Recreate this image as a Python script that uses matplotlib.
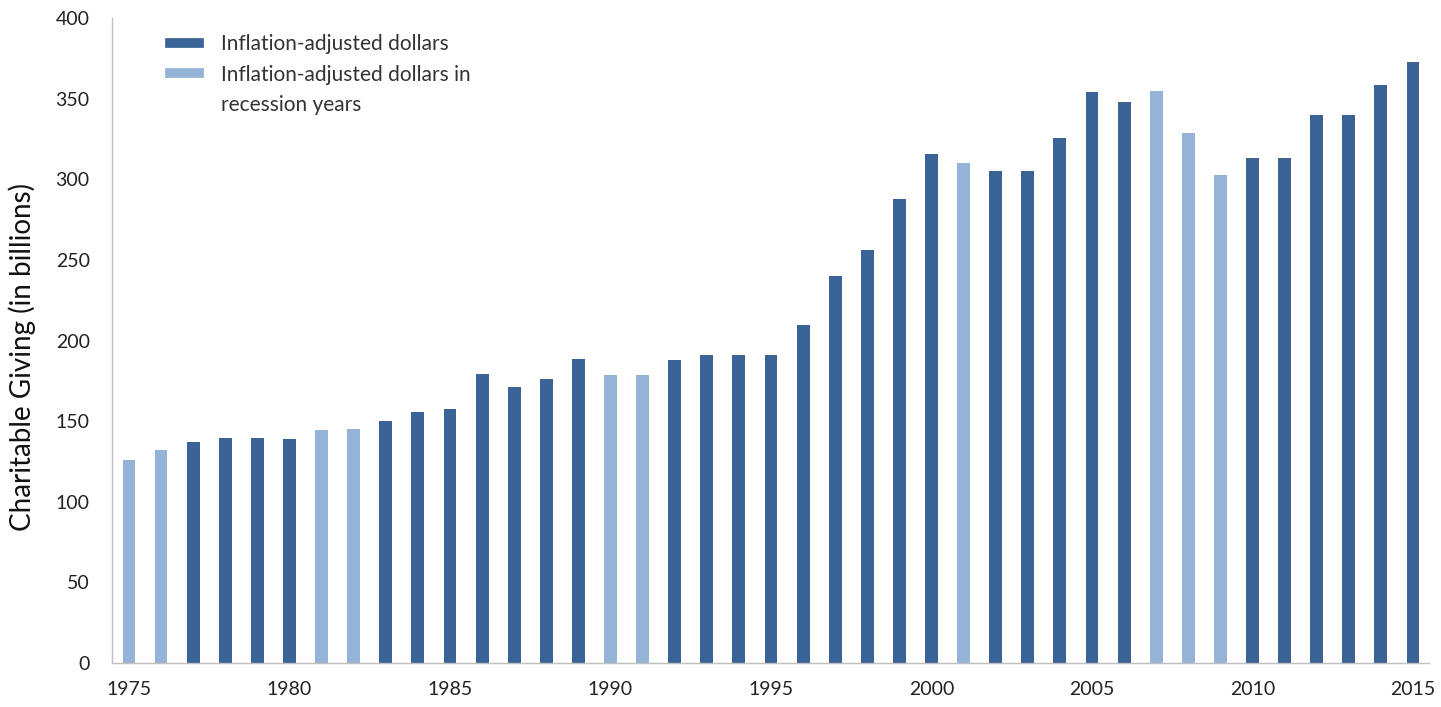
import matplotlib.pyplot as plt
from matplotlib.lines import Line2D

plt.rcParams['font.family'] = ['Lato', 'DejaVu Sans']

years = list(range(1975, 2016))
giving = [126, 132, 137, 139.5, 139.5, 139, 144.5, 145, 150, 155.5,
          157.5, 179, 171, 176, 188.5, 178.5, 178.5, 188, 191, 191,
          191, 210, 240, 256.5, 288, 316, 310, 305.5, 305.5, 326,
          354.5, 348, 355, 329, 302.5, 313, 313.5, 340, 340, 358.5,
          373]
recession_years = [1975, 1976, 1981, 1982, 1990, 1991, 2001, 2007, 2008, 2009]

dark = '#3A6497'
light = '#95B3D7'
colors = [light if y in recession_years else dark for y in years]

fig = plt.figure(figsize=(14.41, 7.07), dpi=100)
ax = fig.add_axes([0.0777, 0.0622, 0.914, 0.912])
ax.bar(years, giving, width=0.4, color=colors)

ax.set_xlim(1974.47, 2015.5)
ax.set_ylim(0, 400)
ax.set_xticks(range(1975, 2016, 5))
ax.set_yticks(range(0, 401, 50))
ax.tick_params(length=0, labelsize=14, colors='#222222')
ax.tick_params(axis='x', pad=13)
ax.tick_params(axis='y', pad=16)

for side in ['top', 'right']:
    ax.spines[side].set_visible(False)
for side in ['left', 'bottom']:
    ax.spines[side].set_color('#BFBFBF')
    ax.spines[side].set_linewidth(1)

ax.set_ylabel('Charitable Giving (in billions)', fontsize=20, color='#111111')
ax.yaxis.set_label_coords(-0.058, 0.474)

# second label wraps onto a row with no swatch, so the swatch sits by its first line
handles = [Line2D([], [], color=dark, lw=7),
           Line2D([], [], color=light, lw=7),
           Line2D([], [], color='none', lw=7)]
labels = ['Inflation-adjusted dollars',
          'Inflation-adjusted dollars in',
          'recession years']
leg = ax.legend(handles, labels, loc='upper left', bbox_to_anchor=(0.044, 0.975),
                borderaxespad=0, borderpad=0, frameon=False, fontsize=15,
                handlelength=1.4, handletextpad=1.05, labelspacing=0.5,
                labelcolor='#333333')

fig.savefig('out.png', dpi=100)
